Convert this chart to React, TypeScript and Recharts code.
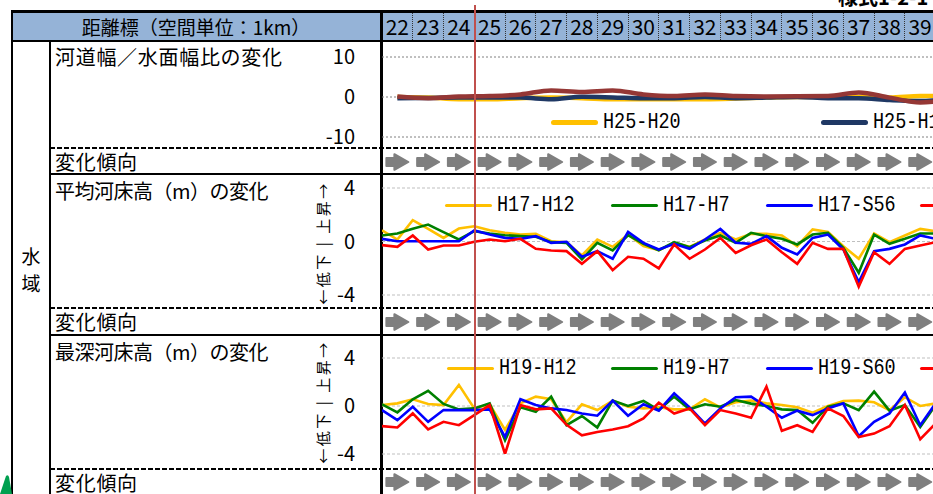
import React from "react";
import { LineChart, Line, XAxis, YAxis, CartesianGrid, ScatterChart, Scatter } from "recharts";

const FONT = '"Noto Sans CJK JP", "Noto Sans", sans-serif';
const MONO = '"Liberation Mono", "DejaVu Sans Mono", monospace';

// 距離標 (km)
const headerKm = [22, 23, 24, 25, 26, 27, 28, 29, 30, 31, 32, 33, 34, 35, 36, 37, 38, 39];
const halfKm = [
  21.5, 22, 22.5, 23, 23.5, 24, 24.5, 25, 25.5, 26, 26.5, 27, 27.5, 28, 28.5, 29, 29.5, 30, 30.5,
  31, 31.5, 32, 32.5, 33, 33.5, 34, 34.5, 35, 35.5, 36, 36.5, 37, 37.5, 38, 38.5, 39, 39.5,
];
const widthKm = [22, 23, 24, 25, 26, 27, 28, 29, 30, 31, 32, 33, 34, 35, 36, 37, 38, 39, 40];

const widthTicks = [-10, 0, 10];
const bedTicks = [-4, 0, 4];

// 河道幅/水面幅比の変化
const widthH25H20 = [0.0, -0.15, -0.55, -0.55, -0.3, -0.15, -0.3, -0.55, -0.55, -0.55, -0.55, -0.4, -0.15, 0.0, 0.0, 0.0, -0.15, 0.25, 0.25];
const widthH25H17 = [-0.3, -0.25, -0.15, -0.15, -0.15, -0.55, 0.05, -0.1, -0.3, -0.3, 0.0, -0.3, -0.15, 0.0, -0.3, -0.3, -0.75, -1.0, -0.4];
const widthH25H12 = [0.1, -0.3, 0.1, 0.25, 0.65, 1.65, 1.25, 1.65, 0.65, 0.25, 0.65, 0.25, 0.15, 0.2, 0.25, 1.1, -0.15, -1.4, -0.6];

// 平均河床高(m)の変化
const avgH17H12 = [0.84, 0.15, 1.59, 0.95, 0.27, 0.97, 1.14, 0.84, 0.65, 0.52, 0.57, 0.02, -0.05, -1.04, 0.15, -0.4, 0.52, -0.35, -0.65, -0.1, -0.4, 0.15, 0.65, 0.15, 0.57, 0.57, 0.45, -0.35, 0.9, 0.72, -0.35, -1.29, 0.6, -0.05, 0.45, 0.94, 0.77];
const avgH17H7 = [0.45, 0.6, 0.95, 1.27, 0.7, 0.15, 0.77, 0.6, 0.47, 0.4, 0.35, -0.05, -0.1, -1.34, -0.1, -0.67, 0.47, -0.17, -0.65, -0.05, -0.42, 0.07, 0.45, -0.1, 0.65, 0.4, 0.2, -0.22, 0.52, 0.65, -0.47, -2.34, 0.52, -0.17, 0.2, 0.6, 0.6];
const avgH17S56 = [0.2, 0.02, 0.02, 0.02, 0.02, 0.02, 0.82, 0.52, 0.27, 0.2, 0.4, -0.1, -0.02, -1.14, -0.72, -1.29, 0.72, -0.1, -0.6, -0.17, -0.55, 0.15, 0.94, -0.1, -0.18, 0.4, -0.47, -0.97, 0.27, 0.52, -0.6, -3.04, -0.72, -0.55, -0.22, 0.45, 0.2];
const avgH17S47 = [-0.27, -0.4, 0.45, -0.6, -0.3, -0.3, -0.02, 0.15, 0.02, 0.2, -0.55, -0.67, -0.72, -1.67, -0.72, -2.14, -1.14, -1.29, -2.01, -0.22, -1.29, -0.6, 0.27, -0.85, -0.28, 0.15, -0.8, -1.67, -0.1, -0.55, -0.55, -3.38, -0.8, -1.67, -0.55, -0.3, -0.05];

// 最深河床高(m)の変化
const deepH19H12 = [0.08, 0.22, 0.56, 0.17, 0.08, 1.76, -0.2, 0.14, -2.0, 0.22, 0.78, 0.56, -1.35, 0.14, -0.34, 0.45, -0.06, -0.2, -0.11, -0.28, -0.28, 0.56, -0.11, 0.31, 0.45, 0.22, 0.08, -0.11, -0.56, 0.0, 0.42, 0.45, 0.31, -0.34, 0.73, 0.0, 0.22];
const deepH19H7 = [0.14, -0.53, 0.56, 1.26, 0.17, -0.28, -0.2, 0.22, -2.86, -0.11, -0.48, 0.78, -1.6, -0.84, -1.79, 0.45, 0.0, 0.42, -0.34, 0.78, -0.28, 0.14, -0.06, 0.5, 0.2, 0.0, -0.28, -0.34, -1.4, -0.06, 0.22, -0.34, 1.2, -0.39, 0.08, -1.74, 0.08];
const deepH19S60 = [-0.34, -1.18, -0.06, -1.32, -0.34, -0.34, -0.34, -0.28, -2.58, 0.56, 0.08, -0.2, -0.34, -0.62, -0.81, 0.45, -0.81, 0.14, -0.39, 1.06, -0.11, -1.46, -0.2, 0.73, 0.78, -0.06, -0.98, -0.39, -0.76, -0.2, 0.22, -2.52, -1.32, -0.62, 1.12, -1.6, 0.22];
const deepH19S50 = [-1.68, -1.79, -0.62, -1.96, -1.32, -1.6, -0.76, 0.08, -4.0, 0.08, -0.28, -0.2, -1.57, -2.44, -2.16, -1.96, -1.68, -1.04, 0.28, -0.62, -0.2, -1.6, -0.34, -0.62, -0.98, 1.62, -2.07, -1.6, -2.16, -0.2, -0.84, -2.58, -2.3, -1.68, 0.08, -2.77, -1.46];

// 変化傾向 (→ = 変化なし)
const trendWidth = ["→", "→", "→", "→", "→", "→", "→", "→", "→", "→", "→", "→", "→", "→", "→", "→", "→", "→"];
const trendAvg = ["→", "→", "→", "→", "→", "→", "→", "→", "→", "→", "→", "→", "→", "→", "→", "→", "→", "→"];
const trendDeep = ["→", "→", "→", "→", "→", "→", "→", "→", "→", "→", "→", "→", "→", "→", "→", "→", "→", "→"];

const widthSeries = [
  { name: "H25-H20", color: "#FFC000", values: widthH25H20 },
  { name: "H25-H17", color: "#1F3864", values: widthH25H17 },
  { name: "H25-H12", color: "#953735", values: widthH25H12 },
];
const avgSeries = [
  { name: "H17-H12", color: "#FFC000", values: avgH17H12 },
  { name: "H17-H7", color: "#008000", values: avgH17H7 },
  { name: "H17-S56", color: "#0000FF", values: avgH17S56 },
  { name: "H17-S47", color: "#FF0000", values: avgH17S47 },
];
const deepSeries = [
  { name: "H19-H12", color: "#FFC000", values: deepH19H12 },
  { name: "H19-H7", color: "#008000", values: deepH19H7 },
  { name: "H19-S60", color: "#0000FF", values: deepH19S60 },
  { name: "H19-S50", color: "#FF0000", values: deepH19S50 },
];

type Series = { name: string; color: string; values: number[] };

const CHART_LEFT = 300;
const CHART_W = 651;
const AXIS_W = 82;
const X0 = 382;
const CELL = 30.75;
const X_DOMAIN: [number, number] = [21.5, 40];

function buildRows(xs: number[], series: Series[]) {
  return xs.map((km, i) => {
    const row: Record<string, number> = { km };
    series.forEach((s, j) => {
      row[`s${j}`] = s.values[i];
    });
    return row;
  });
}

function Panel(props: {
  top: number;
  height: number;
  mTop: number;
  mBottom: number;
  domain: [number, number];
  ticks: number[];
  xs: number[];
  series: Series[];
  strokeWidth: number;
  curve: "linear" | "monotone";
  gridColor: string;
  gridDash: string;
}) {
  const rows = buildRows(props.xs, props.series);
  return (
    <div style={{ position: "absolute", left: CHART_LEFT, top: props.top }}>
      <LineChart width={CHART_W} height={props.height} data={rows} margin={{ top: props.mTop, right: 0, bottom: props.mBottom, left: 0 }}>
        <CartesianGrid vertical={false} stroke={props.gridColor} strokeDasharray={props.gridDash} />
        <XAxis type="number" dataKey="km" domain={X_DOMAIN} hide allowDataOverflow />
        <YAxis
          type="number"
          domain={props.domain}
          ticks={props.ticks}
          interval={0}
          width={AXIS_W}
          axisLine={false}
          tickLine={false}
          tickSize={0}
          tickMargin={27}
          allowDataOverflow
          tick={{ fill: "#000", fontSize: 20, fontFamily: FONT }}
        />
        {props.series.map((s, j) => (
          <Line
            key={s.name}
            dataKey={`s${j}`}
            type={props.curve}
            stroke={s.color}
            strokeWidth={props.strokeWidth}
            dot={false}
            isAnimationActive={false}
          />
        ))}
      </LineChart>
    </div>
  );
}

function TrendArrow({ cx, cy }: { cx: number; cy: number }) {
  return (
    <path
      d={`M${cx - 11},${cy - 4} h8 v-3.8 l14,7.8 l-14,7.8 v-3.8 h-8 z`}
      fill="#7F7F7F"
      stroke="#7F7F7F"
      strokeWidth={2}
      strokeLinejoin="round"
    />
  );
}

function TrendRow({ top, trend }: { top: number; trend: string[] }) {
  const rows = headerKm.map((km, i) => ({ km, y: 0, dir: trend[i] }));
  return (
    <div style={{ position: "absolute", left: CHART_LEFT, top }}>
      <ScatterChart width={CHART_W} height={24} margin={{ top: 0, right: 0, bottom: 0, left: AXIS_W }}>
        <XAxis type="number" dataKey="km" domain={X_DOMAIN} hide />
        <YAxis type="number" dataKey="y" domain={[-1, 1]} hide />
        <Scatter
          data={rows}
          isAnimationActive={false}
          shape={(p: any) => <TrendArrow cx={p.cx} cy={p.cy} />}
        />
      </ScatterChart>
    </div>
  );
}

function LegendRow({ y, xs, series, thick }: { y: number; xs: number[]; series: Series[]; thick: number }) {
  return (
    <>
      {series.map((s, j) => (
        <div
          key={s.name}
          style={{ position: "absolute", left: xs[j], top: y - 12, height: 24, display: "flex", alignItems: "center", whiteSpace: "nowrap" }}
        >
          <div style={{ width: 47, height: thick, background: s.color, borderRadius: thick / 2, marginRight: 5 }} />
          <span style={{ display: "inline-block", fontFamily: MONO, fontSize: 18.5, color: "#000", transform: "scaleY(1.2)" }}>{s.name}</span>
        </div>
      ))}
    </>
  );
}

const hLine = (top: number, h = 2): React.CSSProperties => ({ position: "absolute", left: 50, top, width: 883, height: h, background: "#000" });
const dashLine = (top: number): React.CSSProperties => ({
  position: "absolute",
  left: 50,
  top,
  width: 883,
  height: 2,
  background: "repeating-linear-gradient(to right, #000 0 5px, transparent 5px 7px)",
});

function Label({ text, top, spacing = 0.7 }: { text: string; top: number; spacing?: number }) {
  return (
    <div style={{ position: "absolute", left: 55, top: top - 13, height: 26, lineHeight: "26px", fontSize: 20, letterSpacing: spacing, whiteSpace: "nowrap", color: "#000" }}>
      {text}
    </div>
  );
}

function UpDown({ cy }: { cy: number }) {
  return (
    <div
      style={{
        position: "absolute",
        left: 322,
        top: cy,
        transform: "translate(-50%, -50%) rotate(-90deg)",
        fontSize: 15,
        whiteSpace: "nowrap",
        letterSpacing: 2.5,
        color: "#000",
      }}
    >
      ←低下 | 上昇→
    </div>
  );
}

export default function App() {
  return (
    <div style={{ position: "relative", width: 933, height: 494, overflow: "hidden", background: "#fff", fontFamily: FONT }}>
      <style>{`html,body{margin:0;padding:0;overflow:hidden;background:#fff}`}</style>

      {/* top-right title (cut off) */}
      <div style={{ position: "absolute", left: 838, top: -18, fontSize: 20, fontWeight: 700, whiteSpace: "nowrap" }}>様式1-2-1</div>

      {/* header */}
      <div style={{ position: "absolute", left: 12, top: 10, width: 921, height: 3, background: "#000" }} />
      <div style={{ position: "absolute", left: 12, top: 13, width: 921, height: 27, background: "#95B3D7" }} />
      <div style={{ position: "absolute", left: 12, top: 40, width: 921, height: 2, background: "#000" }} />
      <div style={{ position: "absolute", left: 12, top: 13, width: 368, height: 27, lineHeight: "27px", textAlign: "center", fontSize: 19 }}>
        距離標（空間単位：1km）
      </div>
      {headerKm.map((km, i) => (
        <div key={km}>
          <div
            style={{
              position: "absolute",
              left: X0 + i * CELL,
              top: 13,
              width: CELL,
              height: 27,
              lineHeight: "27px",
              textAlign: "center",
              fontSize: 21,
            }}
          >
            {km}
          </div>
          {i > 0 && (
            <div style={{ position: "absolute", left: X0 + i * CELL - 0.5, top: 13, width: 0, height: 27, borderLeft: "1.5px dotted #333" }} />
          )}
        </div>
      ))}

      {/* frame */}
      <div style={{ position: "absolute", left: 11, top: 10, width: 2, height: 484, background: "#000" }} />
      <div style={{ position: "absolute", left: 49, top: 42, width: 2, height: 452, background: "#000" }} />
      <div style={{ position: "absolute", left: 380, top: 10, width: 2.5, height: 484, background: "#000" }} />
      <div style={dashLine(147)} />
      <div style={hLine(173)} />
      <div style={dashLine(307)} />
      <div style={hLine(334)} />
      <div style={dashLine(468)} />

      {/* left column */}
      <div style={{ position: "absolute", left: 13, top: 245, width: 36, height: 22, textAlign: "center", fontSize: 19, lineHeight: "22px" }}>水</div>
      <div style={{ position: "absolute", left: 13, top: 272, width: 36, height: 22, textAlign: "center", fontSize: 19, lineHeight: "22px" }}>域</div>
      <Label text="河道幅／水面幅比の変化" top={57} />
      <Label text="変化傾向" top={162} />
      <Label text="平均河床高（m）の変化" top={191} spacing={-0.5} />
      <Label text="変化傾向" top={322} />
      <Label text="最深河床高（m）の変化" top={352} spacing={-0.5} />
      <Label text="変化傾向" top={483} />
      <UpDown cy={243} />
      <UpDown cy={402} />

      {/* charts */}
      <Panel top={42} height={110} mTop={15} mBottom={15} domain={[-10, 10]} ticks={widthTicks} xs={widthKm} series={widthSeries}
        strokeWidth={4.5} curve="monotone" gridColor="#808080" gridDash="2 2" />
      <Panel top={168} height={143} mTop={20} mBottom={16} domain={[-4, 4]} ticks={bedTicks} xs={halfKm} series={avgSeries}
        strokeWidth={2.6} curve="linear" gridColor="#bfbfbf" gridDash="3 2" />
      <Panel top={336} height={135} mTop={22} mBottom={17} domain={[-4, 4]} ticks={bedTicks} xs={halfKm} series={deepSeries}
        strokeWidth={2.6} curve="linear" gridColor="#bfbfbf" gridDash="3 2" />

      <LegendRow y={122} xs={[551, 821, 1091]} series={widthSeries} thick={5} />
      <LegendRow y={205} xs={[445, 611, 766, 920]} series={avgSeries} thick={3} />
      <LegendRow y={368} xs={[447, 611, 766, 920]} series={deepSeries} thick={3} />

      <TrendRow top={150} trend={trendWidth} />
      <TrendRow top={310} trend={trendAvg} />
      <TrendRow top={470} trend={trendDeep} />

      {/* reference line */}
      <div style={{ position: "absolute", left: 474, top: 5, width: 1.5, height: 489, background: "#C0504D" }} />

      {/* green mark at bottom-left */}
      <svg style={{ position: "absolute", left: 0, top: 474 }} width={12} height={20}>
        <path d="M0,20 L6,2 Q8,0 9,3 L12,20 Z" fill="#00A050" />
      </svg>
    </div>
  );
}
